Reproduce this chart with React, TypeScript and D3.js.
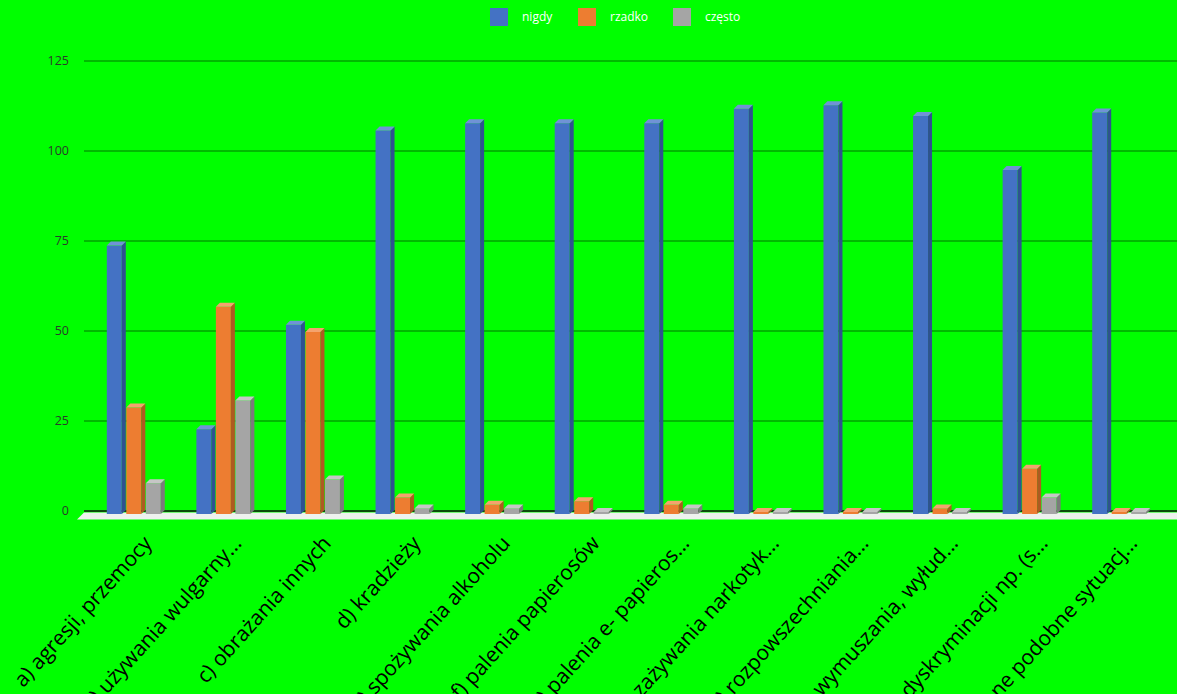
import React from "react";
import * as d3 from "d3";

const categories = [
  "a) agresji, przemocy",
  "b) używania wulgarny...",
  "c) obrażania innych",
  "d) kradzieży",
  "e) spożywania alkoholu",
  "f) palenia papierosów",
  "g) palenia e- papieros...",
  "h) zażywania narkotyk...",
  "i) rozpowszechniania...",
  "j) wymuszania, wyłud...",
  "k) dyskryminacji np. (s...",
  "inne podobne sytuacj...",
];
const seriesNames = ["nigdy", "rzadko", "często"];
const nigdy = [74, 23, 52, 106, 108, 108, 108, 112, 113, 110, 95, 111];
const rzadko = [29, 57, 50, 4, 2, 3, 2, 0, 0, 1, 12, 0];
const czesto = [8, 31, 9, 1, 1, 0, 1, 0, 0, 0, 4, 0];
const yTicks = [0, 25, 50, 75, 100, 125];

const W = 1177;
const H = 694;
const FRONT = ["#4472c4", "#ed7d31", "#a5a5a5"];
const SIDE = ["#2f528f", "#ae5a21", "#7b7b7b"];
const TOP = ["#7093d6", "#f4a36e", "#c6c6c6"];

export default function App() {
  const series = [nigdy, rzadko, czesto];
  const x = d3.scaleBand<string>().domain(categories).range([90, 1165]).padding(0);
  const y = d3.scaleLinear().domain([0, 125]).range([511, 61]);
  const barW = 15;
  const depth = 4;
  const step = 19.5;
  const base = 514;

  return (
    <svg width={W} height={H} style={{ position: "absolute", left: 0, top: 0 }} fontFamily="'Open Sans', sans-serif">
      <rect x={0} y={0} width={W} height={H} fill="#00ff00" />
      {/* legend */}
      {seriesNames.map((n, i) => {
        const lx = [490, 578, 673][i];
        return (
          <g key={n}>
            <rect x={lx} y={8} width={18} height={18} fill={FRONT[i]} />
            <text x={lx + 32} y={17} dy="0.35em" fontSize={12} fill="#ffffff">{n}</text>
          </g>
        );
      })}
      {/* gridlines */}
      {yTicks.map((t) => (
        <g key={t}>
          {t > 0 && (
            <line x1={84} x2={W} y1={y(t)} y2={y(t)} stroke="#00a300" strokeWidth={1.6} />
          )}
          <text x={69} y={y(t)} dy="0.35em" textAnchor="end" fontSize={12.5} fill="#2b3b2b">{t}</text>
        </g>
      ))}
      {/* floor */}
      <polygon points={`84,512.5 ${W},512.5 ${W},519.5 77,519.5`} fill="#eef2ee" />
      <line x1={84} x2={W} y1={y(0)} y2={y(0)} stroke="#111" strokeWidth={1.6} />
      {/* bars */}
      {categories.map((c, ci) => {
        const cx = (x(c) as number) + x.bandwidth() / 2;
        return (
          <g key={c}>
            {series.map((s, si) => {
              const x0 = cx - 28 + si * step;
              const yt = Math.min(y(s[ci]) + 1, base - 2);
              return (
                <g key={si}>
                  <rect x={x0} y={yt} width={barW} height={base - yt} fill={FRONT[si]} />
                  <polygon
                    points={`${x0 + barW},${yt} ${x0 + barW + depth},${yt - depth} ${x0 + barW + depth},${base - depth} ${x0 + barW},${base}`}
                    fill={SIDE[si]}
                  />
                  <polygon
                    points={`${x0},${yt} ${x0 + barW},${yt} ${x0 + barW + depth},${yt - depth} ${x0 + depth},${yt - depth}`}
                    fill={TOP[si]}
                  />
                </g>
              );
            })}
            <text
              transform={`translate(${cx + 7},${534}) rotate(-48)`}
              textAnchor="end"
              dy="0.72em"
              fontSize={21}
              fill="#000"
            >
              {c}
            </text>
          </g>
        );
      })}
    </svg>
  );
}
